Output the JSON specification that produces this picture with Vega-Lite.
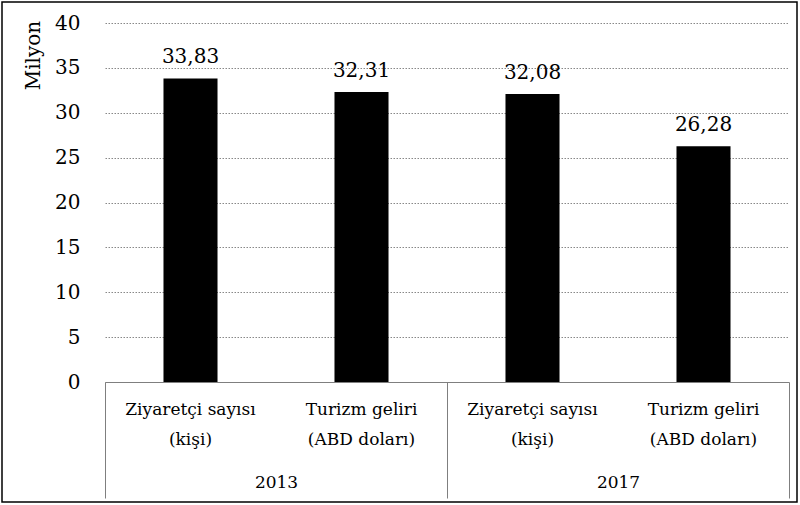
{
  "$schema": "https://vega.github.io/schema/vega-lite/v6.json",
  "width": 795,
  "height": 500,
  "autosize": {"type": "none"},
  "padding": {"left": 2, "top": 2, "right": 3, "bottom": 3},
  "config": {
    "locale": {"number": {"decimal": ",", "thousands": ".", "grouping": [3], "currency": ["", ""]}},
    "view": {"stroke": "black", "strokeWidth": 1.5},
    "font": "DejaVu Serif",
    "axis": {"labelFont": "DejaVu Serif", "titleFont": "DejaVu Serif", "labelColor": "black", "titleColor": "black"}
  },
  "data": {
    "values": [
      {"year": "2013", "key": "2013|Ziyaretçi sayısı|(kişi)", "value": 33.83},
      {"year": "2013", "key": "2013|Turizm geliri|(ABD doları)", "value": 32.31},
      {"year": "2017", "key": "2017|Ziyaretçi sayısı|(kişi)", "value": 32.08},
      {"year": "2017", "key": "2017|Turizm geliri|(ABD doları)", "value": 26.28}
    ]
  },
  "layer": [
    {
      "encoding": {
        "x": {
          "field": "key", "type": "nominal", "sort": null,
          "scale": {"range": [103, 787], "paddingInner": 0.684, "paddingOuter": 0.342},
          "axis": {"title": null, "orient": "bottom", "offset": -120, "ticks": false, "domainColor": "#7f7f7f", "domainWidth": 1,
                   "labelExpr": "slice(split(datum.label,'|'),1)", "labelFontSize": 17, "labelPadding": 19, "labelLineHeight": 30, "labelAngle": 0, "grid": false}
        },
        "y": {
          "field": "value", "type": "quantitative",
          "scale": {"domain": [0, 40], "range": [380, 21], "nice": false},
          "axis": {"title": "Milyon", "offset": -103, "values": [0, 5, 10, 15, 20, 25, 30, 35, 40], "ticks": false, "domain": false,
                   "labelPadding": 25, "labelFontSize": 20, "grid": true, "gridDash": [1.5, 1.5], "gridColor": "#888888", "gridWidth": 1,
                   "titleFontSize": 20, "titleFontWeight": "normal", "titleAngle": -90, "titleX": -72, "titleY": 53,
                   "titleAlign": "center", "titleBaseline": "middle"}
        }
      },
      "layer": [
        {"mark": {"type": "bar", "color": "black"}},
        {"mark": {"type": "text", "baseline": "alphabetic", "dy": -15, "fontSize": 20, "font": "DejaVu Serif", "color": "black"},
         "encoding": {"text": {"field": "value", "type": "quantitative", "format": ".2f"}}}
      ]
    },
    {
      "mark": {"type": "bar", "opacity": 0},
      "encoding": {
        "x": {
          "field": "year", "type": "nominal",
          "scale": {"range": [103, 787], "paddingInner": 0, "paddingOuter": 0},
          "axis": {"title": null, "orient": "bottom", "offset": -120, "domain": false, "tickBand": "extent", "tickSize": 116,
                   "tickColor": "#7f7f7f", "tickWidth": 1, "labelPadding": -24, "labelFontSize": 17, "labelAngle": 0, "grid": false}
        },
        "y": {"field": "value", "type": "quantitative"}
      }
    }
  ],
  "resolve": {"scale": {"x": "independent"}}
}
